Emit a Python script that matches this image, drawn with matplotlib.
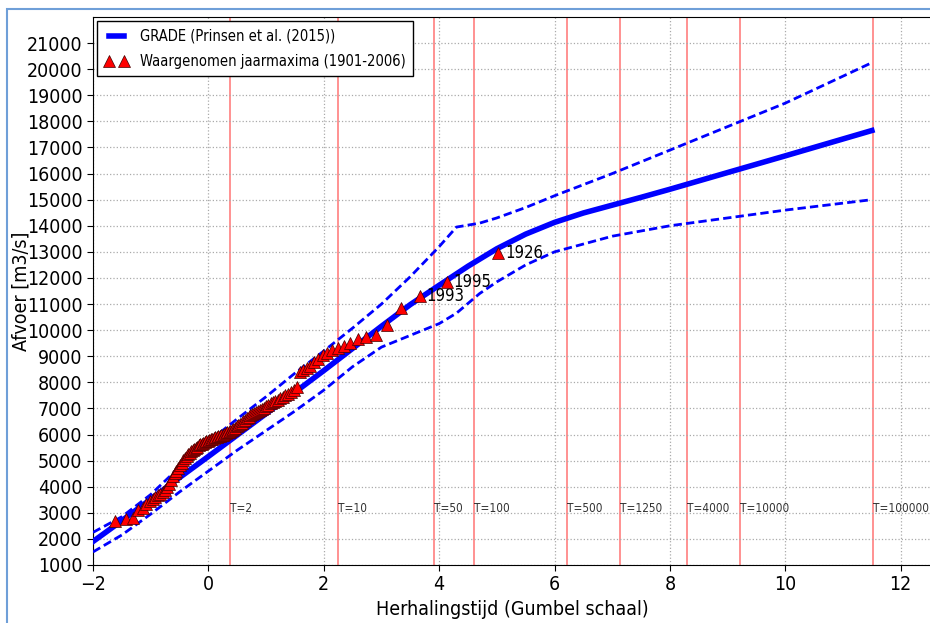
import matplotlib
matplotlib.use('Agg')
import matplotlib.pyplot as plt
from matplotlib.patches import Rectangle
import numpy as np

plt.rcParams['font.family'] = 'DejaVu Sans'
plt.rcParams['font.stretch'] = 'condensed'

# GRADE curve and its confidence band (Gumbel reduced variate -> discharge)
grade_x = [-2.0, -1.5, -1.0, -0.5, 0.0, 0.5, 1.0, 1.5, 2.0, 2.5, 3.0, 3.5, 4.0, 4.5,
           5.0, 5.5, 6.0, 6.5, 7.0, 7.5, 8.0, 9.0, 10.0, 11.5]
grade_q = [1900, 2700, 3520, 4350, 5160, 5980, 6800, 7620, 8450, 9300, 10150, 10980,
           11720, 12450, 13120, 13680, 14130, 14490, 14790, 15090, 15400, 16040, 16680, 17650]

band_x = [-2.0, -1.5, -1.0, -0.5, 0.0, 0.5, 1.0, 1.5, 2.0, 2.5, 3.0, 3.5, 4.0, 4.3, 4.7,
          5.0, 5.5, 6.0, 7.0, 8.0, 9.0, 10.0, 11.5]
upper_q = [2250, 2850, 3700, 4750, 5720, 6600, 7450, 8350, 9200, 10080, 11000, 12050,
           13200, 13950, 14100, 14300, 14700, 15150, 16000, 16900, 17800, 18700, 20250]
lower_q = [1500, 2150, 2950, 3800, 4600, 5400, 6150, 6900, 7700, 8600, 9350, 9800,
           10250, 10650, 11400, 11850, 12500, 13000, 13600, 14000, 14300, 14600, 15000]

# observed annual maxima 1901-2006, sorted ascending
obs_q = [2700, 2750, 2820, 3100, 3200, 3330, 3440, 3520, 3600, 3680,
         3730, 3790, 3880, 3980, 4100, 4250, 4400, 4520, 4620, 4720,
         4820, 4920, 5020, 5100, 5180, 5240, 5300, 5350, 5400, 5450,
         5500, 5540, 5580, 5620, 5650, 5680, 5710, 5740, 5770, 5800,
         5820, 5840, 5860, 5890, 5910, 5930, 5950, 5970, 5990, 6010,
         6040, 6080, 6110, 6150, 6180, 6210, 6260, 6310, 6360, 6410,
         6460, 6500, 6560, 6620, 6680, 6730, 6780, 6820, 6870, 6910,
         6950, 6990, 7030, 7080, 7130, 7190, 7240, 7290, 7340, 7390,
         7440, 7500, 7570, 7630, 7720, 7820, 8400, 8470, 8550, 8640,
         8780, 8900, 9030, 9120, 9220, 9300, 9400, 9500, 9650, 9740,
         9810, 10200, 10850, 11300, 11850, 12950]
top_years = ['1993', '1995', '1926']

return_periods = [2, 10, 50, 100, 500, 1250, 4000, 10000, 100000]

# plotting positions on the Gumbel scale
n = len(obs_q)
rank = np.arange(1, n + 1)
p = (rank - 0.3) / (n + 0.4)
obs_x = -np.log(-np.log(p))
t_x = [-np.log(-np.log(1 - 1.0 / t)) for t in return_periods]

fig = plt.figure(figsize=(9.3, 6.23), dpi=100)
ax = fig.add_axes([0.1, 0.0931, 0.902, 0.8796])

for t, x in zip(return_periods, t_x):
    ax.axvline(x, color='red', alpha=0.5, lw=1.2, zorder=1)
    ax.text(x, 3150, 'T=%d' % t, fontsize=8.5, va='center', ha='left', color='#333333')

ax.plot(grade_x, grade_q, color='#0000ff', lw=4, label='GRADE (Prinsen et al. (2015))', zorder=3)
ax.plot(band_x, upper_q, color='#0000ff', lw=2, ls=(0, (3, 1.5)), zorder=3)
ax.plot(band_x, lower_q, color='#0000ff', lw=2, ls=(0, (3, 1.5)), zorder=3)
ax.plot(obs_x, obs_q, ls='none', marker='^', ms=9, mfc='red', mec='#400000', mew=0.5,
        label='Waargenomen jaarmaxima (1901-2006)', zorder=4)

for yr, x, q in zip(top_years, obs_x[-3:], obs_q[-3:]):
    ax.text(x + 0.12, q, yr, fontsize=12, va='center', ha='left')

ax.set_xlim(-2, 12.54)
ax.set_ylim(1000, 22000)
ax.set_xticks(np.arange(-2, 13, 2))
ax.set_yticks(np.arange(1000, 21001, 1000))
ax.tick_params(direction='out', length=4, labelsize=14)
ax.grid(True, color='#aaaaaa', ls=':', lw=0.9)
ax.set_xlabel('Herhalingstijd (Gumbel schaal)', fontsize=14)
ax.set_ylabel('Afvoer [m3/s]', fontsize=14)
ax.yaxis.set_label_coords(-0.074, 0.5)

leg = ax.legend(loc='upper left', numpoints=2, fontsize=10.5, fancybox=False,
                framealpha=1, edgecolor='black', borderaxespad=0.3, borderpad=0.5,
                labelspacing=0.7, handlelength=1.6)
leg.get_frame().set_linewidth(1)

fig.add_artist(Rectangle((7 / 930, -0.1), 2, 1 - 9 / 623 + 0.1, transform=fig.transFigure,
                         fill=False, edgecolor='#6f9fd8', lw=1.5))

plt.savefig('out.png', dpi=100)
